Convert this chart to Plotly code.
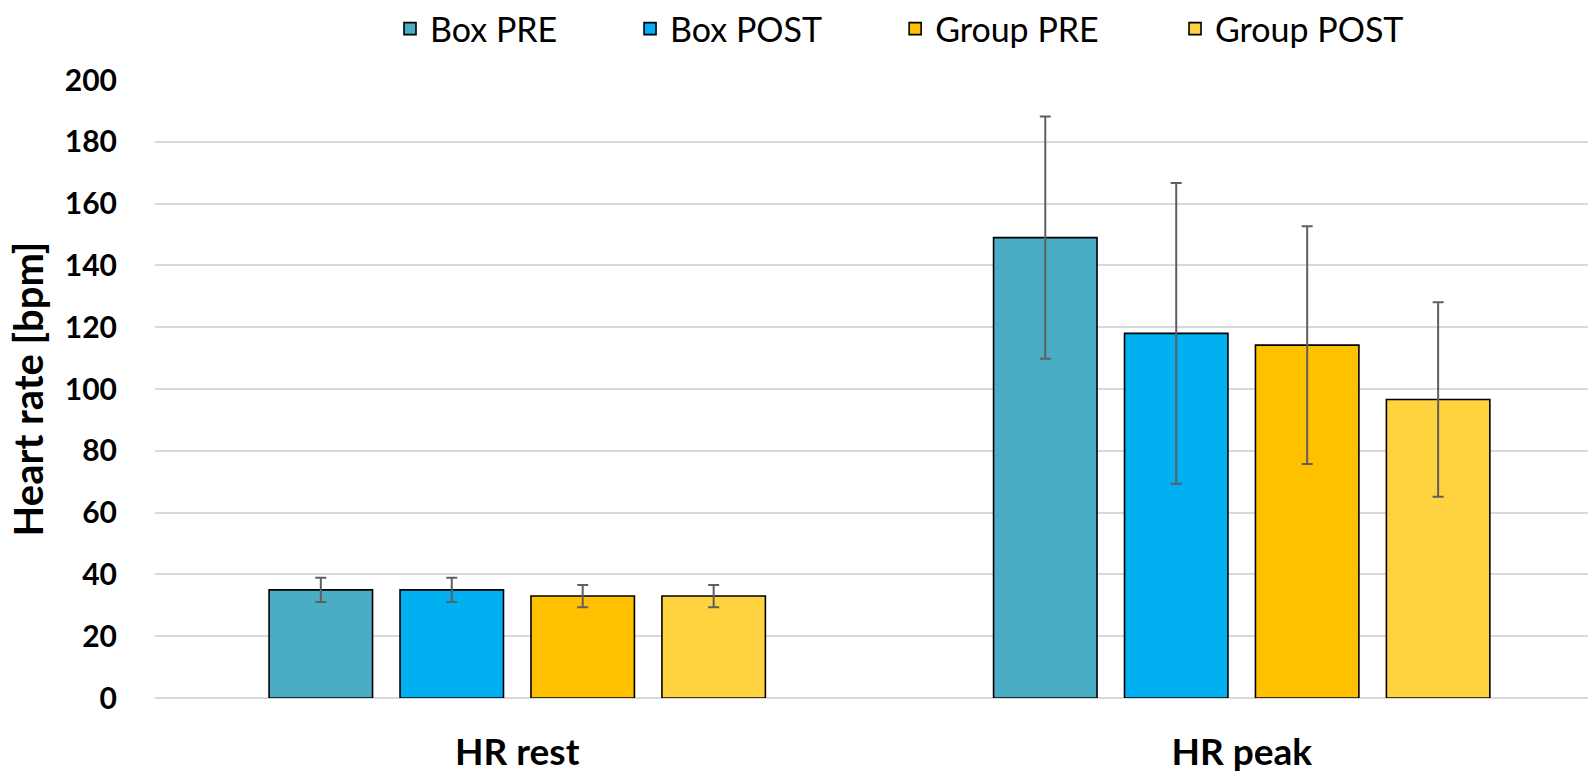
import plotly.graph_objects as go

categories = ["HR rest", "HR peak"]
series_names = ["Box PRE", "Box POST", "Group PRE", "Group POST"]
box_pre = [35.0, 149.0]
box_post = [35.0, 118.0]
group_pre = [33.0, 114.2]
group_post = [33.0, 96.6]
box_pre_err = [3.9, 39.2]
box_post_err = [3.9, 48.7]
group_pre_err = [3.6, 38.5]
group_post_err = [3.6, 31.5]
y_ticks = [0, 20, 40, 60, 80, 100, 120, 140, 160, 180, 200]

colors = ["#4BACC6", "#00B0F0", "#FFC000", "#FFD23F"]
values = [box_pre, box_post, group_pre, group_post]
errors = [box_pre_err, box_post_err, group_pre_err, group_post_err]

font_family = "Lato, Open Sans, sans-serif"
legend_ids = ["legend", "legend2", "legend3", "legend4"]
legend_x = [0.1640, 0.3315, 0.5165, 0.7118]

fig = go.Figure()
for name, vals, errs, col, lid in zip(series_names, values, errors, colors, legend_ids):
    fig.add_trace(go.Bar(
        name=name, x=categories, y=vals, legend=lid,
        marker=dict(color=col, line=dict(color="#000000", width=1.6)),
        error_y=dict(type="data", array=errs, visible=True,
                     color="#5F5F5F", thickness=2, width=5.5),
    ))

legend_style = dict(orientation="h", xanchor="left", y=1.083, yanchor="middle",
                    font=dict(size=34, color="#000000", family=font_family),
                    itemwidth=30, bgcolor="rgba(0,0,0,0)")
legends = {lid: dict(legend_style, x=lx) for lid, lx in zip(legend_ids, legend_x)}

fig.update_layout(
    width=1588, height=772,
    barmode="group", bargap=0.277, bargroupgap=0.21,
    paper_bgcolor="white", plot_bgcolor="white",
    margin=dict(l=155, r=0, t=76, b=74),
    font=dict(family=font_family, color="#000000"),
    showlegend=True,
    **legends,
)
fig.update_yaxes(
    range=[0, 200], tickvals=y_ticks,
    tickfont=dict(size=30, family=font_family, weight="bold"),
    showgrid=True, gridcolor="#D9D9D9", gridwidth=1.5,
    zeroline=True, zerolinecolor="#D9D9D9", zerolinewidth=1.5,
    showline=False, ticks="", ticklabelstandoff=37,
    title=dict(text="Heart rate [bpm]", font=dict(size=40, family=font_family, weight="bold"), standoff=8),
)
fig.update_xaxes(
    range=[-0.5, 1.478],
    tickfont=dict(size=37, family=font_family, weight="bold"),
    showline=False, ticks="", ticklabelstandoff=29,
)

fig.write_html("out.html", config={"displayModeBar": False},
               post_script="document.body.style.margin='0px';document.body.style.overflow='hidden';")
